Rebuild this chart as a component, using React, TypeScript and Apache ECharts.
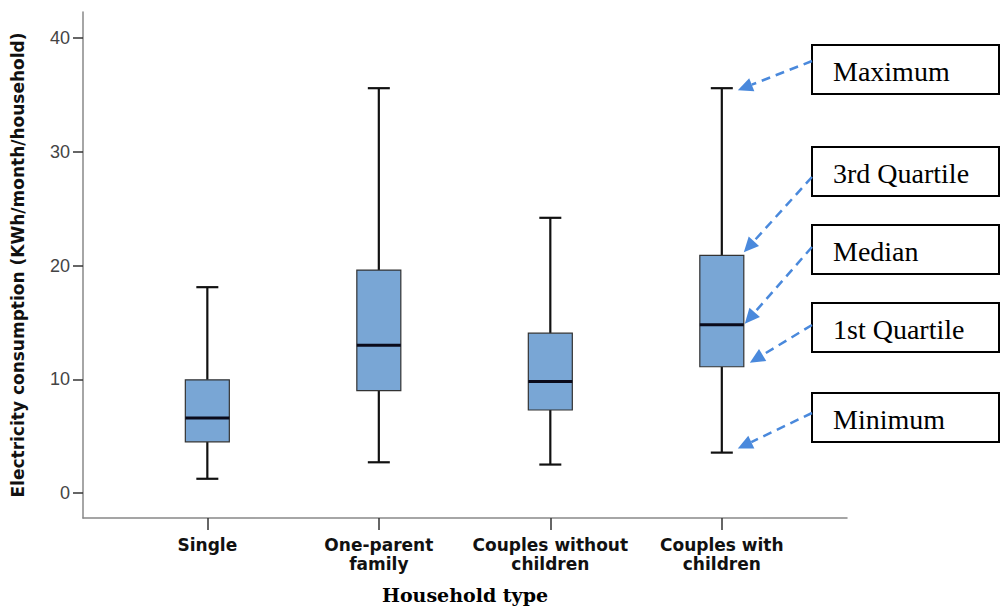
import React, { useEffect, useRef } from "react";
import * as echarts from "echarts";

const categories = ["Single", "One-parent\nfamily", "Couples without\nchildren", "Couples with\nchildren"];
const mins = [1.25, 2.7, 2.5, 3.55];
const q1s = [4.5, 9.0, 7.3, 11.1];
const medians = [6.6, 13.0, 9.8, 14.8];
const q3s = [9.95, 19.6, 14.05, 20.9];
const maxs = [18.1, 35.6, 24.2, 35.6];
const yTicks = [0, 10, 20, 30, 40];
const annotationLabels = ["Maximum", "3rd Quartile", "Median", "1st Quartile", "Minimum"];

const BLUE = "#4a89dc";

export default function App() {
  const ref = useRef<HTMLDivElement>(null);
  useEffect(() => {
    if (!ref.current) return;
    const chart = echarts.init(ref.current, null, { renderer: "svg" });
    const data = categories.map((_, i) => [i, mins[i], q1s[i], medians[i], q3s[i], maxs[i]]);
    chart.setOption({
      animation: false,
      backgroundColor: "#fff",
      grid: { left: 83, right: 153, top: 12, bottom: 92 },
      xAxis: {
        type: "value",
        min: -0.725,
        max: 3.73,
        name: "Household type",
        nameLocation: "middle",
        nameGap: 67,
        nameTextStyle: { fontFamily: "DejaVu Serif", fontWeight: "bold", fontSize: 19, color: "#000" },
        axisLine: { show: true, onZero: false, lineStyle: { color: "#888", width: 1.5 } },
        axisTick: { show: true, customValues: [0, 1, 2, 3], length: 12, lineStyle: { color: "#333", width: 1.5 } },
        axisLabel: {
          customValues: [0, 1, 2, 3],
          formatter: (v: number) => categories[Math.round(v)] ?? "",
          fontFamily: "DejaVu Sans",
          fontWeight: "bold",
          fontSize: 17,
          lineHeight: 19,
          color: "#111",
          margin: 17,
        },
        splitLine: { show: false },
      },
      yAxis: {
        type: "value",
        min: -2.2,
        max: 42.3,
        name: "Electricity consumption (KWh/month/household)",
        nameLocation: "middle",
        nameRotate: 90,
        nameGap: 57,
        nameTextStyle: { fontFamily: "DejaVu Sans", fontWeight: "bold", fontSize: 17, color: "#111" },
        axisLine: { show: true, onZero: false, lineStyle: { color: "#888", width: 1.5 } },
        axisTick: { show: true, customValues: yTicks, length: 10, lineStyle: { color: "#333", width: 1.5 } },
        axisLabel: {
          customValues: yTicks,
          fontFamily: "Liberation Sans",
          fontSize: 18,
          color: "#444",
          margin: 13,
        },
        splitLine: { show: false },
      },
      series: [
        {
          type: "custom",
          data,
          encode: { x: 0, y: [1, 2, 3, 4, 5] },
          renderItem: (params: any, api: any) => {
            const x = api.value(0);
            const pMin = api.coord([x, api.value(1)]);
            const pQ1 = api.coord([x, api.value(2)]);
            const pMed = api.coord([x, api.value(3)]);
            const pQ3 = api.coord([x, api.value(4)]);
            const pMax = api.coord([x, api.value(5)]);
            const cx = pMin[0];
            const hw = 22;
            const cw = 11;
            const wStyle = { stroke: "#111", lineWidth: 2.2 };
            return {
              type: "group",
              children: [
                { type: "line", shape: { x1: cx, y1: pMax[1], x2: cx, y2: pQ3[1] }, style: wStyle },
                { type: "line", shape: { x1: cx, y1: pQ1[1], x2: cx, y2: pMin[1] }, style: wStyle },
                { type: "line", shape: { x1: cx - cw, y1: pMax[1], x2: cx + cw, y2: pMax[1] }, style: wStyle },
                { type: "line", shape: { x1: cx - cw, y1: pMin[1], x2: cx + cw, y2: pMin[1] }, style: wStyle },
                {
                  type: "rect",
                  shape: { x: cx - hw, y: pQ3[1], width: hw * 2, height: pQ1[1] - pQ3[1] },
                  style: { fill: "#79a6d5", stroke: "#333", lineWidth: 1.2 },
                },
                {
                  type: "line",
                  shape: { x1: cx - hw, y1: pMed[1], x2: cx + hw, y2: pMed[1] },
                  style: { stroke: "#0a0a1a", lineWidth: 3 },
                },
              ],
            };
          },
        },
      ],
    });

    // Annotation callouts pointing at "Couples with children"
    const idx = 3;
    const targets = [maxs[idx], q3s[idx], medians[idx], q1s[idx], mins[idx]];
    const tipOffsets = [[16, 2], [22, -3], [23, -1], [28, -4], [16, -4]];
    const boxTops = [45, 147, 225, 303, 393];
    const startYs = [61, 177, 247, 325, 413];
    const graphics: any[] = [];
    annotationLabels.forEach((label, i) => {
      const p = chart.convertToPixel({ gridIndex: 0 }, [idx, targets[i]]) as number[];
      const tx = p[0] + tipOffsets[i][0];
      const ty = p[1] + tipOffsets[i][1];
      const sx = 812;
      const sy = startYs[i];
      const dx = tx - sx;
      const dy = ty - sy;
      const len = Math.hypot(dx, dy);
      const ux = dx / len;
      const uy = dy / len;
      const aLen = 15;
      const aW = 7;
      const bx = tx - ux * aLen;
      const by = ty - uy * aLen;
      graphics.push({
        type: "rect",
        shape: { x: 812, y: boxTops[i], width: 187, height: 49 },
        style: { fill: "#fff", stroke: "#000", lineWidth: 2 },
      });
      graphics.push({
        type: "text",
        x: 833,
        y: boxTops[i] + 26,
        style: {
          text: label,
          fontFamily: "Liberation Serif",
          fontSize: 28,
          fill: "#000",
          verticalAlign: "middle",
          align: "left",
        },
      });
      graphics.push({
        type: "line",
        shape: { x1: sx, y1: sy, x2: bx, y2: by },
        style: { stroke: BLUE, lineWidth: 2.5, lineDash: [9, 6] },
      });
      graphics.push({
        type: "polygon",
        shape: {
          points: [
            [tx, ty],
            [bx - uy * aW, by + ux * aW],
            [bx + uy * aW, by - ux * aW],
          ],
        },
        style: { fill: BLUE },
      });
    });
    chart.setOption({ graphic: graphics });

    return () => chart.dispose();
  }, []);
  return (
    <div
      ref={ref}
      style={{ position: "absolute", left: 0, top: 0, width: 1000, height: 610 }}
    />
  );
}
